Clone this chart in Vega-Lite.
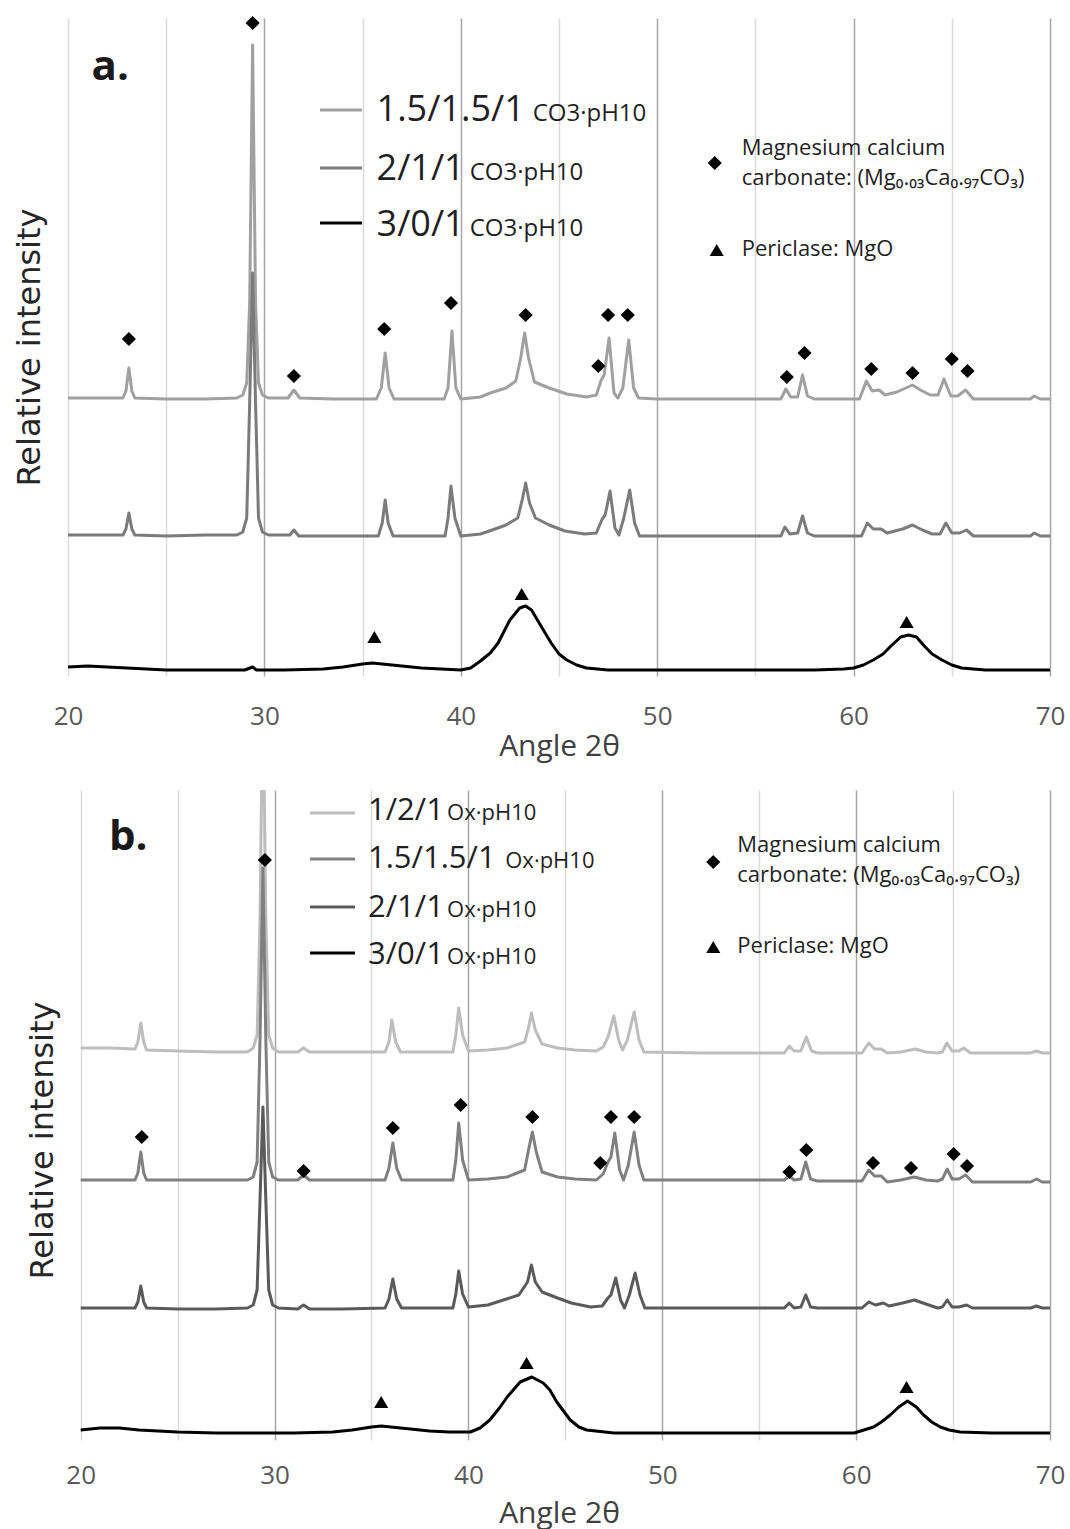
{
"$schema": "https://vega.github.io/schema/vega-lite/v6.json",
"background": "white",
"padding": {"left": 13, "top": 15, "right": 5, "bottom": 5},
"columns": 1,
"align": "none",
"spacing": 29,
"resolve": {"scale": {"color": "independent", "shape": "independent"}},
"config": {"view": {"stroke": null}, "font": "Open Sans"},
"datasets": {
"a_curves": [
{"s":"1.5/1.5/1","x":20.0,"y":278},{"s":"1.5/1.5/1","x":21.5,"y":278},{"s":"1.5/1.5/1","x":22.8,"y":278},{"s":"1.5/1.5/1","x":22.95,"y":285},{"s":"1.5/1.5/1","x":23.1,"y":308},{"s":"1.5/1.5/1","x":23.25,"y":285},{"s":"1.5/1.5/1","x":23.4,"y":278},{"s":"1.5/1.5/1","x":25,"y":277},{"s":"1.5/1.5/1","x":27,"y":277},{"s":"1.5/1.5/1","x":28.6,"y":278},{"s":"1.5/1.5/1","x":28.9,"y":281},{"s":"1.5/1.5/1","x":29.1,"y":293},{"s":"1.5/1.5/1","x":29.25,"y":373},{"s":"1.5/1.5/1","x":29.4,"y":631},{"s":"1.5/1.5/1","x":29.55,"y":373},{"s":"1.5/1.5/1","x":29.7,"y":293},{"s":"1.5/1.5/1","x":29.9,"y":281},{"s":"1.5/1.5/1","x":30.2,"y":278},{"s":"1.5/1.5/1","x":31.2,"y":278},{"s":"1.5/1.5/1","x":31.5,"y":286},{"s":"1.5/1.5/1","x":31.8,"y":278},{"s":"1.5/1.5/1","x":33.5,"y":277},{"s":"1.5/1.5/1","x":35.7,"y":277},{"s":"1.5/1.5/1","x":35.95,"y":288},{"s":"1.5/1.5/1","x":36.15,"y":323},{"s":"1.5/1.5/1","x":36.35,"y":288},{"s":"1.5/1.5/1","x":36.6,"y":277},{"s":"1.5/1.5/1","x":38,"y":277},{"s":"1.5/1.5/1","x":39.15,"y":277},{"s":"1.5/1.5/1","x":39.35,"y":288},{"s":"1.5/1.5/1","x":39.55,"y":345},{"s":"1.5/1.5/1","x":39.75,"y":288},{"s":"1.5/1.5/1","x":40.0,"y":277},{"s":"1.5/1.5/1","x":41.0,"y":279},{"s":"1.5/1.5/1","x":41.5,"y":283},{"s":"1.5/1.5/1","x":42.3,"y":288},{"s":"1.5/1.5/1","x":42.8,"y":295},{"s":"1.5/1.5/1","x":43.05,"y":318},{"s":"1.5/1.5/1","x":43.25,"y":343},{"s":"1.5/1.5/1","x":43.45,"y":318},{"s":"1.5/1.5/1","x":43.75,"y":294},{"s":"1.5/1.5/1","x":44.5,"y":288},{"s":"1.5/1.5/1","x":45.4,"y":282},{"s":"1.5/1.5/1","x":46.4,"y":279},{"s":"1.5/1.5/1","x":46.9,"y":281},{"s":"1.5/1.5/1","x":47.15,"y":296},{"s":"1.5/1.5/1","x":47.3,"y":301},{"s":"1.5/1.5/1","x":47.55,"y":338},{"s":"1.5/1.5/1","x":47.8,"y":283},{"s":"1.5/1.5/1","x":48.0,"y":278},{"s":"1.5/1.5/1","x":48.25,"y":288},{"s":"1.5/1.5/1","x":48.55,"y":336},{"s":"1.5/1.5/1","x":48.8,"y":288},{"s":"1.5/1.5/1","x":49.05,"y":278},{"s":"1.5/1.5/1","x":50,"y":277},{"s":"1.5/1.5/1","x":53,"y":277},{"s":"1.5/1.5/1","x":56.3,"y":277},{"s":"1.5/1.5/1","x":56.55,"y":287},{"s":"1.5/1.5/1","x":56.8,"y":279},{"s":"1.5/1.5/1","x":57.15,"y":279},{"s":"1.5/1.5/1","x":57.4,"y":301},{"s":"1.5/1.5/1","x":57.65,"y":280},{"s":"1.5/1.5/1","x":58.0,"y":277},{"s":"1.5/1.5/1","x":60.3,"y":277},{"s":"1.5/1.5/1","x":60.65,"y":295},{"s":"1.5/1.5/1","x":60.95,"y":285},{"s":"1.5/1.5/1","x":61.3,"y":286},{"s":"1.5/1.5/1","x":61.6,"y":281},{"s":"1.5/1.5/1","x":62.2,"y":284},{"s":"1.5/1.5/1","x":63.0,"y":291},{"s":"1.5/1.5/1","x":63.4,"y":286},{"s":"1.5/1.5/1","x":63.9,"y":281},{"s":"1.5/1.5/1","x":64.3,"y":281},{"s":"1.5/1.5/1","x":64.6,"y":297},{"s":"1.5/1.5/1","x":64.95,"y":280},{"s":"1.5/1.5/1","x":65.3,"y":280},{"s":"1.5/1.5/1","x":65.7,"y":286},{"s":"1.5/1.5/1","x":66.1,"y":277},{"s":"1.5/1.5/1","x":69.0,"y":277},{"s":"1.5/1.5/1","x":69.2,"y":280},{"s":"1.5/1.5/1","x":69.5,"y":277},{"s":"1.5/1.5/1","x":70.0,"y":277},
{"s":"2/1/1","x":20.0,"y":141},{"s":"2/1/1","x":21.5,"y":141},{"s":"2/1/1","x":22.8,"y":141},{"s":"2/1/1","x":22.95,"y":147},{"s":"2/1/1","x":23.1,"y":163},{"s":"2/1/1","x":23.25,"y":147},{"s":"2/1/1","x":23.4,"y":141},{"s":"2/1/1","x":25,"y":140},{"s":"2/1/1","x":27,"y":141},{"s":"2/1/1","x":28.6,"y":141},{"s":"2/1/1","x":28.9,"y":144},{"s":"2/1/1","x":29.1,"y":158},{"s":"2/1/1","x":29.25,"y":273},{"s":"2/1/1","x":29.4,"y":403},{"s":"2/1/1","x":29.55,"y":273},{"s":"2/1/1","x":29.7,"y":158},{"s":"2/1/1","x":29.9,"y":144},{"s":"2/1/1","x":30.2,"y":141},{"s":"2/1/1","x":31.3,"y":141},{"s":"2/1/1","x":31.5,"y":146},{"s":"2/1/1","x":31.75,"y":140},{"s":"2/1/1","x":33.5,"y":140},{"s":"2/1/1","x":35.8,"y":140},{"s":"2/1/1","x":36.0,"y":153},{"s":"2/1/1","x":36.15,"y":176},{"s":"2/1/1","x":36.3,"y":153},{"s":"2/1/1","x":36.55,"y":140},{"s":"2/1/1","x":38,"y":140},{"s":"2/1/1","x":39.2,"y":140},{"s":"2/1/1","x":39.35,"y":158},{"s":"2/1/1","x":39.5,"y":190},{"s":"2/1/1","x":39.7,"y":158},{"s":"2/1/1","x":40.0,"y":140},{"s":"2/1/1","x":41.0,"y":142},{"s":"2/1/1","x":41.6,"y":146},{"s":"2/1/1","x":42.3,"y":151},{"s":"2/1/1","x":42.9,"y":158},{"s":"2/1/1","x":43.15,"y":178},{"s":"2/1/1","x":43.3,"y":193},{"s":"2/1/1","x":43.5,"y":173},{"s":"2/1/1","x":43.8,"y":158},{"s":"2/1/1","x":44.5,"y":151},{"s":"2/1/1","x":45.3,"y":145},{"s":"2/1/1","x":46.3,"y":142},{"s":"2/1/1","x":46.9,"y":143},{"s":"2/1/1","x":47.2,"y":157},{"s":"2/1/1","x":47.35,"y":161},{"s":"2/1/1","x":47.6,"y":185},{"s":"2/1/1","x":47.85,"y":148},{"s":"2/1/1","x":48.05,"y":141},{"s":"2/1/1","x":48.3,"y":158},{"s":"2/1/1","x":48.6,"y":186},{"s":"2/1/1","x":48.85,"y":153},{"s":"2/1/1","x":49.1,"y":140},{"s":"2/1/1","x":52,"y":140},{"s":"2/1/1","x":56.3,"y":140},{"s":"2/1/1","x":56.5,"y":149},{"s":"2/1/1","x":56.75,"y":142},{"s":"2/1/1","x":57.15,"y":143},{"s":"2/1/1","x":57.4,"y":160},{"s":"2/1/1","x":57.65,"y":143},{"s":"2/1/1","x":58.0,"y":140},{"s":"2/1/1","x":60.4,"y":140},{"s":"2/1/1","x":60.7,"y":153},{"s":"2/1/1","x":61.0,"y":147},{"s":"2/1/1","x":61.4,"y":147},{"s":"2/1/1","x":61.7,"y":143},{"s":"2/1/1","x":62.5,"y":147},{"s":"2/1/1","x":63.0,"y":151},{"s":"2/1/1","x":63.5,"y":146},{"s":"2/1/1","x":64.0,"y":142},{"s":"2/1/1","x":64.4,"y":142},{"s":"2/1/1","x":64.7,"y":153},{"s":"2/1/1","x":65.0,"y":143},{"s":"2/1/1","x":65.4,"y":143},{"s":"2/1/1","x":65.75,"y":146},{"s":"2/1/1","x":66.1,"y":140},{"s":"2/1/1","x":69.0,"y":140},{"s":"2/1/1","x":69.2,"y":143},{"s":"2/1/1","x":69.5,"y":140},{"s":"2/1/1","x":70.0,"y":140},
{"s":"3/0/1","x":20.0,"y":9},{"s":"3/0/1","x":21.0,"y":10},{"s":"3/0/1","x":22.0,"y":9},{"s":"3/0/1","x":23.0,"y":8},{"s":"3/0/1","x":25.0,"y":6},{"s":"3/0/1","x":27.0,"y":6},{"s":"3/0/1","x":29.0,"y":6},{"s":"3/0/1","x":29.4,"y":9},{"s":"3/0/1","x":29.6,"y":6},{"s":"3/0/1","x":31.0,"y":6},{"s":"3/0/1","x":33.0,"y":7},{"s":"3/0/1","x":34.0,"y":9},{"s":"3/0/1","x":35.0,"y":12},{"s":"3/0/1","x":35.5,"y":13},{"s":"3/0/1","x":36.0,"y":12},{"s":"3/0/1","x":37.0,"y":10},{"s":"3/0/1","x":38.0,"y":8},{"s":"3/0/1","x":39.0,"y":7},{"s":"3/0/1","x":40.0,"y":6},{"s":"3/0/1","x":40.5,"y":8},{"s":"3/0/1","x":41.0,"y":15},{"s":"3/0/1","x":41.5,"y":23},{"s":"3/0/1","x":41.9,"y":33},{"s":"3/0/1","x":42.5,"y":56},{"s":"3/0/1","x":43.0,"y":68},{"s":"3/0/1","x":43.3,"y":70},{"s":"3/0/1","x":43.6,"y":66},{"s":"3/0/1","x":43.9,"y":56},{"s":"3/0/1","x":44.6,"y":33},{"s":"3/0/1","x":45.0,"y":22},{"s":"3/0/1","x":45.4,"y":16},{"s":"3/0/1","x":45.9,"y":11},{"s":"3/0/1","x":46.4,"y":8},{"s":"3/0/1","x":47.5,"y":6},{"s":"3/0/1","x":50.0,"y":6},{"s":"3/0/1","x":55.0,"y":6},{"s":"3/0/1","x":58.0,"y":6},{"s":"3/0/1","x":59.5,"y":7},{"s":"3/0/1","x":60.0,"y":8},{"s":"3/0/1","x":60.5,"y":11},{"s":"3/0/1","x":61.0,"y":16},{"s":"3/0/1","x":61.5,"y":22},{"s":"3/0/1","x":61.9,"y":30},{"s":"3/0/1","x":62.4,"y":39},{"s":"3/0/1","x":62.8,"y":41},{"s":"3/0/1","x":63.2,"y":39},{"s":"3/0/1","x":63.6,"y":30},{"s":"3/0/1","x":64.0,"y":22},{"s":"3/0/1","x":64.5,"y":16},{"s":"3/0/1","x":65.0,"y":11},{"s":"3/0/1","x":65.5,"y":8},{"s":"3/0/1","x":66.7,"y":6},{"s":"3/0/1","x":70.0,"y":6}
],
"a_marks": [
{"p":"carbonate","x":23.1,"y":337},{"p":"carbonate","x":29.4,"y":653},{"p":"carbonate","x":31.5,"y":300},{"p":"carbonate","x":36.1,"y":347},{"p":"carbonate","x":39.5,"y":373},{"p":"carbonate","x":43.3,"y":361},{"p":"carbonate","x":47.0,"y":310},{"p":"carbonate","x":47.5,"y":361},{"p":"carbonate","x":48.5,"y":361},{"p":"carbonate","x":56.6,"y":299},{"p":"carbonate","x":57.5,"y":323},{"p":"carbonate","x":60.9,"y":307},{"p":"carbonate","x":63.0,"y":303},{"p":"carbonate","x":65.0,"y":317},{"p":"carbonate","x":65.8,"y":305},
{"p":"periclase","x":35.6,"y":39},{"p":"periclase","x":43.1,"y":82},{"p":"periclase","x":62.7,"y":54},
{"p":"carbonate","x":52.93,"y":513},{"p":"periclase","x":53.03,"y":426}
],
"a_swatch": [
{"s":"1.5/1.5/1","x":32.83,"x2":34.97,"y":566},{"s":"2/1/1","x":32.83,"x2":34.97,"y":508},{"s":"3/0/1","x":32.83,"x2":34.97,"y":453}
],
"a_text": [
{"k":"big","x":35.71,"y":555,"t":"1.5/1.5/1"},{"k":"big","x":35.71,"y":496,"t":"2/1/1"},{"k":"big","x":35.71,"y":440,"t":"3/0/1"},
{"k":"sub","x":43.66,"y":555,"t":"CO3·pH10"},{"k":"sub","x":40.45,"y":496,"t":"CO3·pH10"},{"k":"sub","x":40.45,"y":440,"t":"CO3·pH10"},
{"k":"phase","x":54.3,"y":521,"t":"Magnesium calcium"},{"k":"phase","x":54.3,"y":491,"t":"carbonate: (Mg₀.₀₃Ca₀.₉₇CO₃)"},{"k":"phase","x":54.3,"y":420,"t":"Periclase: MgO"},
{"k":"panel","x":21.2,"y":596,"t":"a."}
],
"b_curves": [
{"s":"1/2/1","x":20.0,"y":392},{"s":"1/2/1","x":21.5,"y":392},{"s":"1/2/1","x":22.8,"y":391},{"s":"1/2/1","x":22.95,"y":398},{"s":"1/2/1","x":23.1,"y":417},{"s":"1/2/1","x":23.25,"y":398},{"s":"1/2/1","x":23.4,"y":390},{"s":"1/2/1","x":25,"y":389},{"s":"1/2/1","x":27,"y":388},{"s":"1/2/1","x":28.6,"y":388},{"s":"1/2/1","x":28.9,"y":392},{"s":"1/2/1","x":29.1,"y":405},{"s":"1/2/1","x":29.25,"y":520},{"s":"1/2/1","x":29.4,"y":760},{"s":"1/2/1","x":29.55,"y":520},{"s":"1/2/1","x":29.7,"y":405},{"s":"1/2/1","x":29.9,"y":392},{"s":"1/2/1","x":30.2,"y":388},{"s":"1/2/1","x":31.2,"y":388},{"s":"1/2/1","x":31.5,"y":392},{"s":"1/2/1","x":31.8,"y":388},{"s":"1/2/1","x":33.5,"y":388},{"s":"1/2/1","x":35.7,"y":388},{"s":"1/2/1","x":35.9,"y":398},{"s":"1/2/1","x":36.05,"y":420},{"s":"1/2/1","x":36.25,"y":398},{"s":"1/2/1","x":36.5,"y":388},{"s":"1/2/1","x":38,"y":388},{"s":"1/2/1","x":39.2,"y":388},{"s":"1/2/1","x":39.35,"y":405},{"s":"1/2/1","x":39.5,"y":432},{"s":"1/2/1","x":39.7,"y":405},{"s":"1/2/1","x":40.0,"y":389},{"s":"1/2/1","x":41.0,"y":390},{"s":"1/2/1","x":42.0,"y":392},{"s":"1/2/1","x":42.9,"y":398},{"s":"1/2/1","x":43.1,"y":412},{"s":"1/2/1","x":43.25,"y":427},{"s":"1/2/1","x":43.45,"y":410},{"s":"1/2/1","x":43.8,"y":396},{"s":"1/2/1","x":44.6,"y":392},{"s":"1/2/1","x":45.5,"y":390},{"s":"1/2/1","x":46.6,"y":389},{"s":"1/2/1","x":46.95,"y":393},{"s":"1/2/1","x":47.2,"y":403},{"s":"1/2/1","x":47.5,"y":424},{"s":"1/2/1","x":47.75,"y":400},{"s":"1/2/1","x":47.95,"y":390},{"s":"1/2/1","x":48.2,"y":400},{"s":"1/2/1","x":48.55,"y":428},{"s":"1/2/1","x":48.8,"y":400},{"s":"1/2/1","x":49.05,"y":388},{"s":"1/2/1","x":52,"y":387},{"s":"1/2/1","x":56.3,"y":387},{"s":"1/2/1","x":56.55,"y":394},{"s":"1/2/1","x":56.8,"y":389},{"s":"1/2/1","x":57.15,"y":389},{"s":"1/2/1","x":57.43,"y":403},{"s":"1/2/1","x":57.7,"y":389},{"s":"1/2/1","x":58.0,"y":387},{"s":"1/2/1","x":60.3,"y":387},{"s":"1/2/1","x":60.65,"y":397},{"s":"1/2/1","x":60.95,"y":391},{"s":"1/2/1","x":61.3,"y":391},{"s":"1/2/1","x":61.6,"y":387},{"s":"1/2/1","x":62.3,"y":388},{"s":"1/2/1","x":63.05,"y":391},{"s":"1/2/1","x":63.6,"y":388},{"s":"1/2/1","x":64.2,"y":387},{"s":"1/2/1","x":64.45,"y":388},{"s":"1/2/1","x":64.68,"y":397},{"s":"1/2/1","x":64.95,"y":389},{"s":"1/2/1","x":65.3,"y":389},{"s":"1/2/1","x":65.55,"y":392},{"s":"1/2/1","x":65.9,"y":387},{"s":"1/2/1","x":69.0,"y":387},{"s":"1/2/1","x":69.3,"y":389},{"s":"1/2/1","x":69.6,"y":387},{"s":"1/2/1","x":70.0,"y":387},
{"s":"1.5/1.5/1","x":20.0,"y":260},{"s":"1.5/1.5/1","x":21.5,"y":260},{"s":"1.5/1.5/1","x":22.8,"y":260},{"s":"1.5/1.5/1","x":22.95,"y":267},{"s":"1.5/1.5/1","x":23.1,"y":288},{"s":"1.5/1.5/1","x":23.25,"y":267},{"s":"1.5/1.5/1","x":23.4,"y":260},{"s":"1.5/1.5/1","x":25,"y":260},{"s":"1.5/1.5/1","x":27,"y":260},{"s":"1.5/1.5/1","x":28.6,"y":260},{"s":"1.5/1.5/1","x":28.9,"y":263},{"s":"1.5/1.5/1","x":29.1,"y":278},{"s":"1.5/1.5/1","x":29.25,"y":400},{"s":"1.5/1.5/1","x":29.4,"y":572},{"s":"1.5/1.5/1","x":29.55,"y":400},{"s":"1.5/1.5/1","x":29.7,"y":278},{"s":"1.5/1.5/1","x":29.9,"y":263},{"s":"1.5/1.5/1","x":30.2,"y":260},{"s":"1.5/1.5/1","x":31.2,"y":260},{"s":"1.5/1.5/1","x":31.5,"y":265},{"s":"1.5/1.5/1","x":31.8,"y":260},{"s":"1.5/1.5/1","x":33.5,"y":260},{"s":"1.5/1.5/1","x":35.7,"y":260},{"s":"1.5/1.5/1","x":35.9,"y":272},{"s":"1.5/1.5/1","x":36.1,"y":297},{"s":"1.5/1.5/1","x":36.3,"y":272},{"s":"1.5/1.5/1","x":36.55,"y":260},{"s":"1.5/1.5/1","x":38,"y":260},{"s":"1.5/1.5/1","x":39.2,"y":260},{"s":"1.5/1.5/1","x":39.35,"y":280},{"s":"1.5/1.5/1","x":39.5,"y":317},{"s":"1.5/1.5/1","x":39.7,"y":280},{"s":"1.5/1.5/1","x":40.0,"y":260},{"s":"1.5/1.5/1","x":41.0,"y":261},{"s":"1.5/1.5/1","x":42.0,"y":263},{"s":"1.5/1.5/1","x":42.9,"y":270},{"s":"1.5/1.5/1","x":43.1,"y":290},{"s":"1.5/1.5/1","x":43.3,"y":308},{"s":"1.5/1.5/1","x":43.5,"y":288},{"s":"1.5/1.5/1","x":43.8,"y":268},{"s":"1.5/1.5/1","x":44.6,"y":263},{"s":"1.5/1.5/1","x":45.5,"y":261},{"s":"1.5/1.5/1","x":46.6,"y":260},{"s":"1.5/1.5/1","x":46.95,"y":266},{"s":"1.5/1.5/1","x":47.2,"y":278},{"s":"1.5/1.5/1","x":47.35,"y":283},{"s":"1.5/1.5/1","x":47.55,"y":307},{"s":"1.5/1.5/1","x":47.8,"y":270},{"s":"1.5/1.5/1","x":48.0,"y":260},{"s":"1.5/1.5/1","x":48.25,"y":275},{"s":"1.5/1.5/1","x":48.55,"y":308},{"s":"1.5/1.5/1","x":48.8,"y":275},{"s":"1.5/1.5/1","x":49.05,"y":260},{"s":"1.5/1.5/1","x":52,"y":260},{"s":"1.5/1.5/1","x":56.3,"y":260},{"s":"1.5/1.5/1","x":56.55,"y":264},{"s":"1.5/1.5/1","x":56.8,"y":260},{"s":"1.5/1.5/1","x":57.15,"y":261},{"s":"1.5/1.5/1","x":57.4,"y":278},{"s":"1.5/1.5/1","x":57.65,"y":261},{"s":"1.5/1.5/1","x":58.0,"y":259},{"s":"1.5/1.5/1","x":60.3,"y":259},{"s":"1.5/1.5/1","x":60.65,"y":270},{"s":"1.5/1.5/1","x":60.95,"y":264},{"s":"1.5/1.5/1","x":61.3,"y":264},{"s":"1.5/1.5/1","x":61.6,"y":258},{"s":"1.5/1.5/1","x":62.3,"y":260},{"s":"1.5/1.5/1","x":63.0,"y":263},{"s":"1.5/1.5/1","x":63.6,"y":260},{"s":"1.5/1.5/1","x":64.2,"y":259},{"s":"1.5/1.5/1","x":64.45,"y":261},{"s":"1.5/1.5/1","x":64.7,"y":271},{"s":"1.5/1.5/1","x":64.95,"y":261},{"s":"1.5/1.5/1","x":65.3,"y":261},{"s":"1.5/1.5/1","x":65.65,"y":265},{"s":"1.5/1.5/1","x":66.0,"y":258},{"s":"1.5/1.5/1","x":69.0,"y":258},{"s":"1.5/1.5/1","x":69.3,"y":261},{"s":"1.5/1.5/1","x":69.6,"y":258},{"s":"1.5/1.5/1","x":70.0,"y":258},
{"s":"2/1/1","x":20.0,"y":132},{"s":"2/1/1","x":21.5,"y":132},{"s":"2/1/1","x":22.8,"y":132},{"s":"2/1/1","x":22.95,"y":138},{"s":"2/1/1","x":23.1,"y":154},{"s":"2/1/1","x":23.25,"y":138},{"s":"2/1/1","x":23.4,"y":132},{"s":"2/1/1","x":25,"y":131},{"s":"2/1/1","x":27,"y":131},{"s":"2/1/1","x":28.6,"y":132},{"s":"2/1/1","x":28.9,"y":135},{"s":"2/1/1","x":29.1,"y":150},{"s":"2/1/1","x":29.25,"y":240},{"s":"2/1/1","x":29.4,"y":333},{"s":"2/1/1","x":29.55,"y":240},{"s":"2/1/1","x":29.7,"y":150},{"s":"2/1/1","x":29.9,"y":135},{"s":"2/1/1","x":30.2,"y":132},{"s":"2/1/1","x":31.2,"y":131},{"s":"2/1/1","x":31.5,"y":135},{"s":"2/1/1","x":31.8,"y":131},{"s":"2/1/1","x":33.5,"y":131},{"s":"2/1/1","x":35.7,"y":132},{"s":"2/1/1","x":35.9,"y":141},{"s":"2/1/1","x":36.1,"y":161},{"s":"2/1/1","x":36.3,"y":141},{"s":"2/1/1","x":36.55,"y":132},{"s":"2/1/1","x":38,"y":132},{"s":"2/1/1","x":39.2,"y":132},{"s":"2/1/1","x":39.35,"y":146},{"s":"2/1/1","x":39.5,"y":169},{"s":"2/1/1","x":39.7,"y":146},{"s":"2/1/1","x":40.0,"y":133},{"s":"2/1/1","x":41.0,"y":135},{"s":"2/1/1","x":41.8,"y":140},{"s":"2/1/1","x":42.6,"y":145},{"s":"2/1/1","x":43.05,"y":158},{"s":"2/1/1","x":43.25,"y":175},{"s":"2/1/1","x":43.45,"y":158},{"s":"2/1/1","x":43.8,"y":148},{"s":"2/1/1","x":44.6,"y":142},{"s":"2/1/1","x":45.3,"y":137},{"s":"2/1/1","x":46.3,"y":133},{"s":"2/1/1","x":46.9,"y":134},{"s":"2/1/1","x":47.2,"y":142},{"s":"2/1/1","x":47.35,"y":145},{"s":"2/1/1","x":47.6,"y":162},{"s":"2/1/1","x":47.85,"y":140},{"s":"2/1/1","x":48.05,"y":132},{"s":"2/1/1","x":48.3,"y":145},{"s":"2/1/1","x":48.6,"y":167},{"s":"2/1/1","x":48.85,"y":145},{"s":"2/1/1","x":49.1,"y":132},{"s":"2/1/1","x":52,"y":132},{"s":"2/1/1","x":56.3,"y":132},{"s":"2/1/1","x":56.55,"y":137},{"s":"2/1/1","x":56.8,"y":132},{"s":"2/1/1","x":57.15,"y":133},{"s":"2/1/1","x":57.4,"y":145},{"s":"2/1/1","x":57.65,"y":133},{"s":"2/1/1","x":58.0,"y":132},{"s":"2/1/1","x":60.3,"y":132},{"s":"2/1/1","x":60.65,"y":138},{"s":"2/1/1","x":61.0,"y":135},{"s":"2/1/1","x":61.4,"y":137},{"s":"2/1/1","x":61.7,"y":134},{"s":"2/1/1","x":62.4,"y":137},{"s":"2/1/1","x":63.0,"y":140},{"s":"2/1/1","x":63.6,"y":136},{"s":"2/1/1","x":64.2,"y":132},{"s":"2/1/1","x":64.45,"y":133},{"s":"2/1/1","x":64.7,"y":140},{"s":"2/1/1","x":64.95,"y":133},{"s":"2/1/1","x":65.3,"y":133},{"s":"2/1/1","x":65.7,"y":135},{"s":"2/1/1","x":66.0,"y":132},{"s":"2/1/1","x":69.0,"y":132},{"s":"2/1/1","x":69.3,"y":134},{"s":"2/1/1","x":69.6,"y":132},{"s":"2/1/1","x":70.0,"y":132},
{"s":"3/0/1","x":20.0,"y":10},{"s":"3/0/1","x":21.0,"y":12},{"s":"3/0/1","x":22.0,"y":12},{"s":"3/0/1","x":23.0,"y":10},{"s":"3/0/1","x":25.0,"y":8},{"s":"3/0/1","x":27.0,"y":7},{"s":"3/0/1","x":29.0,"y":7},{"s":"3/0/1","x":31.0,"y":7},{"s":"3/0/1","x":33.0,"y":8},{"s":"3/0/1","x":34.0,"y":10},{"s":"3/0/1","x":35.0,"y":13},{"s":"3/0/1","x":35.5,"y":14},{"s":"3/0/1","x":36.0,"y":13},{"s":"3/0/1","x":37.0,"y":11},{"s":"3/0/1","x":38.0,"y":9},{"s":"3/0/1","x":39.0,"y":8},{"s":"3/0/1","x":40.1,"y":8},{"s":"3/0/1","x":40.6,"y":12},{"s":"3/0/1","x":41.1,"y":20},{"s":"3/0/1","x":41.6,"y":32},{"s":"3/0/1","x":42.0,"y":43},{"s":"3/0/1","x":42.67,"y":58},{"s":"3/0/1","x":43.27,"y":63},{"s":"3/0/1","x":43.86,"y":57},{"s":"3/0/1","x":44.2,"y":50},{"s":"3/0/1","x":44.56,"y":38},{"s":"3/0/1","x":45.25,"y":20},{"s":"3/0/1","x":45.7,"y":13},{"s":"3/0/1","x":46.1,"y":10},{"s":"3/0/1","x":47.5,"y":7},{"s":"3/0/1","x":50,"y":7},{"s":"3/0/1","x":55,"y":7},{"s":"3/0/1","x":58,"y":7},{"s":"3/0/1","x":59.9,"y":7},{"s":"3/0/1","x":60.4,"y":10},{"s":"3/0/1","x":60.9,"y":13},{"s":"3/0/1","x":61.3,"y":18},{"s":"3/0/1","x":61.76,"y":25},{"s":"3/0/1","x":62.2,"y":33},{"s":"3/0/1","x":62.65,"y":39},{"s":"3/0/1","x":63.1,"y":33},{"s":"3/0/1","x":63.48,"y":25},{"s":"3/0/1","x":63.9,"y":18},{"s":"3/0/1","x":64.34,"y":13},{"s":"3/0/1","x":64.8,"y":10},{"s":"3/0/1","x":65.37,"y":8},{"s":"3/0/1","x":67,"y":7},{"s":"3/0/1","x":70,"y":7}
],
"b_marks": [
{"p":"carbonate","x":23.15,"y":303},{"p":"carbonate","x":29.5,"y":580},{"p":"carbonate","x":31.5,"y":269},{"p":"carbonate","x":36.1,"y":312},{"p":"carbonate","x":39.6,"y":335},{"p":"carbonate","x":43.3,"y":323},{"p":"carbonate","x":46.8,"y":277},{"p":"carbonate","x":47.35,"y":323},{"p":"carbonate","x":48.55,"y":323},{"p":"carbonate","x":56.56,"y":268},{"p":"carbonate","x":57.43,"y":290},{"p":"carbonate","x":60.87,"y":277},{"p":"carbonate","x":62.83,"y":272},{"p":"carbonate","x":65.03,"y":286},{"p":"carbonate","x":65.72,"y":274},
{"p":"periclase","x":35.5,"y":38},{"p":"periclase","x":43.0,"y":77},{"p":"periclase","x":62.6,"y":53},
{"p":"carbonate","x":52.63,"y":578},{"p":"periclase","x":52.63,"y":493}
],
"b_swatch": [
{"s":"1/2/1","x":31.83,"x2":34.15,"y":627},{"s":"1.5/1.5/1","x":31.83,"x2":34.15,"y":581},{"s":"2/1/1","x":31.83,"x2":34.15,"y":533},{"s":"3/0/1","x":31.83,"x2":34.15,"y":487}
],
"b_text": [
{"k":"big","x":34.82,"y":620,"t":"1/2/1"},{"k":"big","x":34.82,"y":572,"t":"1.5/1.5/1"},{"k":"big","x":34.82,"y":523,"t":"2/1/1"},{"k":"big","x":34.82,"y":476,"t":"3/0/1"},
{"k":"sub","x":38.9,"y":620,"t":"Ox·pH10"},{"k":"sub","x":41.9,"y":572,"t":"Ox·pH10"},{"k":"sub","x":38.9,"y":523,"t":"Ox·pH10"},{"k":"sub","x":38.9,"y":476,"t":"Ox·pH10"},
{"k":"phase","x":53.87,"y":588,"t":"Magnesium calcium"},{"k":"phase","x":53.87,"y":558,"t":"carbonate: (Mg₀.₀₃Ca₀.₉₇CO₃)"},{"k":"phase","x":53.87,"y":487,"t":"Periclase: MgO"},
{"k":"panel","x":21.46,"y":590,"t":"b."}
]
},
"concat": [
{
"width": 982, "height": 658,
"layer": [
{"data": {"name": "a_curves"}, "mark": {"type": "line", "strokeWidth": 3, "strokeJoin": "round", "clip": true},
 "encoding": {
  "x": {"field": "x", "type": "quantitative", "scale": {"domain": [20, 70], "nice": false, "zero": false},
   "axis": {"values": [20,25,30,35,40,45,50,55,60,65,70], "labelExpr": "datum.value % 10 === 0 ? datum.label : ''", "grid": true,
    "gridColor": {"condition": {"test": "datum.value % 10 === 0 && datum.value > 20", "value": "#a6a6a6"}, "value": "#d9d9d9"},
    "gridWidth": 1.5, "ticks": false, "tickSize": 0, "domain": false, "labelFontSize": 26, "labelColor": "#595959", "labelFont": "Open Sans",
    "labelPadding": 27, "labelFlush": false, "labelOverlap": false, "title": "Angle 2θ", "titleFontSize": 30, "titleFont": "Open Sans",
    "titleFontWeight": "normal", "titleColor": "#404040", "titlePadding": 2}},
  "y": {"field": "y", "type": "quantitative", "scale": {"domain": [0, 658], "nice": false, "zero": false},
   "axis": {"title": "Relative intensity", "labels": false, "ticks": false, "domain": false, "grid": false, "titleFont": "DejaVu Sans",
    "titleFontSize": 32, "titleFontWeight": "normal", "titleColor": "#262626", "titlePadding": 22}},
  "color": {"field": "s", "type": "nominal", "scale": {"domain": ["1.5/1.5/1", "2/1/1", "3/0/1"], "range": ["#a0a0a0", "#7b7b7b", "#000000"]}, "legend": null}
 }},
{"data": {"name": "a_marks"}, "mark": {"type": "point", "filled": true, "color": "#000000", "opacity": 1, "size": 200},
 "encoding": {"x": {"field": "x", "type": "quantitative"}, "y": {"field": "y", "type": "quantitative"},
  "shape": {"field": "p", "type": "nominal", "scale": {"domain": ["carbonate", "periclase"], "range": ["diamond", "triangle-up"]}, "legend": null}}},
{"data": {"name": "a_swatch"}, "mark": {"type": "rule", "strokeWidth": 3},
 "encoding": {"x": {"field": "x", "type": "quantitative"}, "x2": {"field": "x2"}, "y": {"field": "y", "type": "quantitative"}, "color": {"field": "s", "type": "nominal"}}},
{"data": {"name": "a_text"}, "transform": [{"filter": "datum.k === 'big'"}], "mark": {"type": "text", "align": "left", "baseline": "alphabetic", "fontSize": 36, "font": "Open Sans", "color": "#1f1f1f"},
 "encoding": {"x": {"field": "x", "type": "quantitative"}, "y": {"field": "y", "type": "quantitative"}, "text": {"field": "t"}}},
{"data": {"name": "a_text"}, "transform": [{"filter": "datum.k === 'sub'"}], "mark": {"type": "text", "align": "left", "baseline": "alphabetic", "fontSize": 24, "font": "Open Sans", "color": "#1f1f1f"},
 "encoding": {"x": {"field": "x", "type": "quantitative"}, "y": {"field": "y", "type": "quantitative"}, "text": {"field": "t"}}},
{"data": {"name": "a_text"}, "transform": [{"filter": "datum.k === 'phase'"}], "mark": {"type": "text", "align": "left", "baseline": "alphabetic", "fontSize": 22, "font": "Open Sans", "color": "#1f1f1f"},
 "encoding": {"x": {"field": "x", "type": "quantitative"}, "y": {"field": "y", "type": "quantitative"}, "text": {"field": "t"}}},
{"data": {"name": "a_text"}, "transform": [{"filter": "datum.k === 'panel'"}], "mark": {"type": "text", "align": "left", "baseline": "alphabetic", "fontSize": 42, "fontWeight": "bold", "font": "Open Sans", "color": "#1a1a1a"},
 "encoding": {"x": {"field": "x", "type": "quantitative"}, "y": {"field": "y", "type": "quantitative"}, "text": {"field": "t"}}}
]
},
{
"width": 982, "height": 650,
"layer": [
{"data": {"name": "b_curves"}, "mark": {"type": "line", "strokeWidth": 3, "strokeJoin": "round", "clip": true},
 "encoding": {
  "x": {"field": "x", "type": "quantitative", "scale": {"domain": [19.345, 70], "nice": false, "zero": false},
   "axis": {"values": [20,25,30,35,40,45,50,55,60,65,70], "labelExpr": "datum.value % 10 === 0 ? datum.label : ''", "grid": true,
    "gridColor": {"condition": {"test": "datum.value % 10 === 0 && datum.value > 20", "value": "#a6a6a6"}, "value": "#d9d9d9"},
    "gridWidth": 1.5, "ticks": false, "tickSize": 0, "domain": false, "labelFontSize": 26, "labelColor": "#595959", "labelFont": "Open Sans",
    "labelPadding": 22, "labelFlush": false, "labelOverlap": false, "title": "Angle 2θ", "titleFontSize": 30, "titleFont": "Open Sans",
    "titleFontWeight": "normal", "titleColor": "#404040", "titlePadding": 10}},
  "y": {"field": "y", "type": "quantitative", "scale": {"domain": [0, 650], "nice": false, "zero": false},
   "axis": {"title": "Relative intensity", "labels": false, "ticks": false, "domain": false, "grid": false, "titleFont": "DejaVu Sans",
    "titleFontSize": 32, "titleFontWeight": "normal", "titleColor": "#262626", "titlePadding": 22, "titleX": -9, "titleY": 350}},
  "color": {"field": "s", "type": "nominal", "scale": {"domain": ["1/2/1", "1.5/1.5/1", "2/1/1", "3/0/1"], "range": ["#bdbdbd", "#808080", "#5a5a5a", "#000000"]}, "legend": null}
 }},
{"data": {"name": "b_marks"}, "mark": {"type": "point", "filled": true, "color": "#000000", "opacity": 1, "size": 200},
 "encoding": {"x": {"field": "x", "type": "quantitative"}, "y": {"field": "y", "type": "quantitative"},
  "shape": {"field": "p", "type": "nominal", "scale": {"domain": ["carbonate", "periclase"], "range": ["diamond", "triangle-up"]}, "legend": null}}},
{"data": {"name": "b_swatch"}, "mark": {"type": "rule", "strokeWidth": 3},
 "encoding": {"x": {"field": "x", "type": "quantitative"}, "x2": {"field": "x2"}, "y": {"field": "y", "type": "quantitative"}, "color": {"field": "s", "type": "nominal"}}},
{"data": {"name": "b_text"}, "transform": [{"filter": "datum.k === 'big'"}], "mark": {"type": "text", "align": "left", "baseline": "alphabetic", "fontSize": 31, "font": "Open Sans", "color": "#1f1f1f"},
 "encoding": {"x": {"field": "x", "type": "quantitative"}, "y": {"field": "y", "type": "quantitative"}, "text": {"field": "t"}}},
{"data": {"name": "b_text"}, "transform": [{"filter": "datum.k === 'sub'"}], "mark": {"type": "text", "align": "left", "baseline": "alphabetic", "fontSize": 22, "font": "Open Sans", "color": "#1f1f1f"},
 "encoding": {"x": {"field": "x", "type": "quantitative"}, "y": {"field": "y", "type": "quantitative"}, "text": {"field": "t"}}},
{"data": {"name": "b_text"}, "transform": [{"filter": "datum.k === 'phase'"}], "mark": {"type": "text", "align": "left", "baseline": "alphabetic", "fontSize": 22, "font": "Open Sans", "color": "#1f1f1f"},
 "encoding": {"x": {"field": "x", "type": "quantitative"}, "y": {"field": "y", "type": "quantitative"}, "text": {"field": "t"}}},
{"data": {"name": "b_text"}, "transform": [{"filter": "datum.k === 'panel'"}], "mark": {"type": "text", "align": "left", "baseline": "alphabetic", "fontSize": 42, "fontWeight": "bold", "font": "Open Sans", "color": "#1a1a1a"},
 "encoding": {"x": {"field": "x", "type": "quantitative"}, "y": {"field": "y", "type": "quantitative"}, "text": {"field": "t"}}}
]
}
]
}
